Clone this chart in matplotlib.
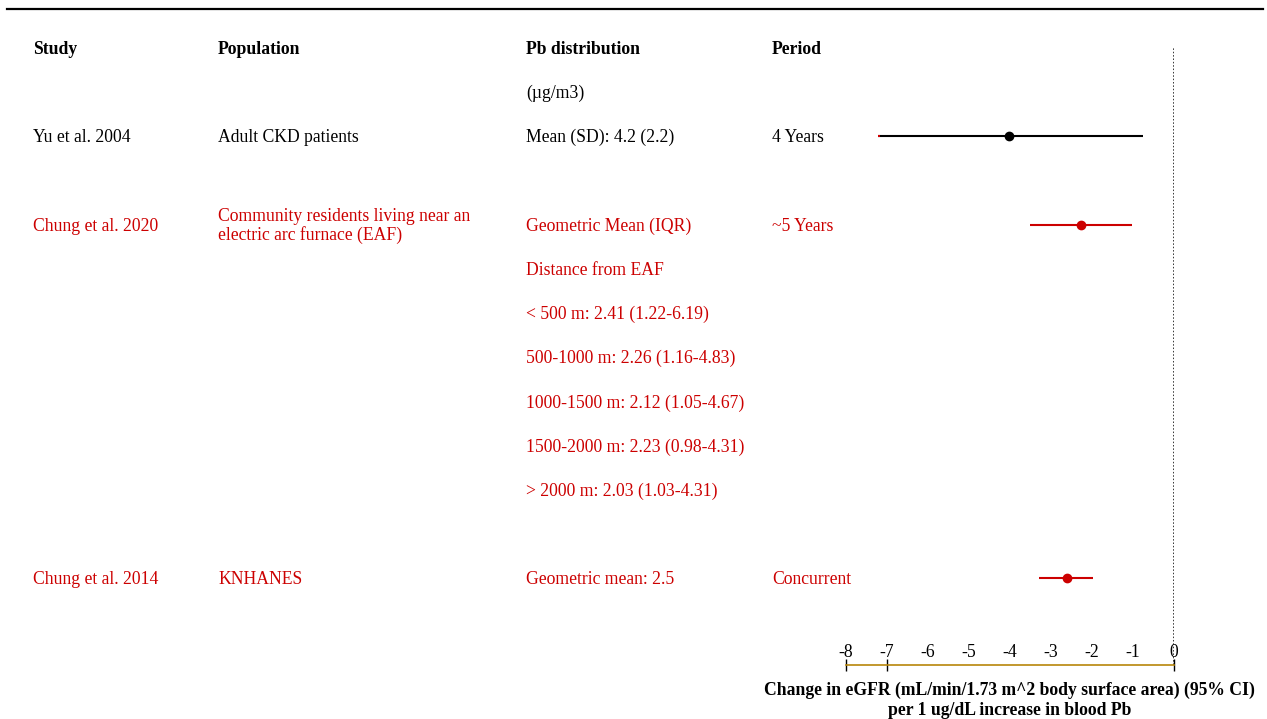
import matplotlib
matplotlib.use("Agg")
import matplotlib.pyplot as plt
import matplotlib.transforms as mtransforms
from matplotlib.lines import Line2D

plt.rcParams["font.family"] = ["Liberation Serif", "DejaVu Serif"]
plt.rcParams["font.size"] = 12.7

RED = "#CC0000"

# table headers
headers = ["Study", "Population", "Pb distribution", "Period"]
unit_label = "(\u00b5g/m3)"

# studies
studies = ["Yu et al. 2004", "Chung et al. 2020", "Chung et al. 2014"]
populations = ["Adult CKD patients",
               "Community residents living near an\nelectric arc furnace (EAF)",
               "KNHANES"]
pb_dist = ["Mean (SD): 4.2 (2.2)", "Geometric Mean (IQR)", "Geometric mean: 2.5"]
periods = ["4 Years", "~5 Years", "Concurrent"]
study_rows = [2, 4, 12]
study_colors = ["black", RED, RED]

# extra lines under Chung et al. 2020
extra_lines = ["Distance from EAF",
               "< 500 m: 2.41 (1.22-6.19)",
               "500-1000 m: 2.26 (1.16-4.83)",
               "1000-1500 m: 2.12 (1.05-4.67)",
               "1500-2000 m: 2.23 (0.98-4.31)",
               "> 2000 m: 2.03 (1.03-4.31)"]

# effect estimates (change in eGFR per 1 ug/dL blood Pb)
est = [-4.01, -2.25, -2.60]
lo = [-7.20, -3.49, -3.29]
hi = [-0.74, -1.01, -1.96]

xticks = [-8, -7, -6, -5, -4, -3, -2, -1, 0]

W, H = 1267, 719
fig = plt.figure(figsize=(W / 100, H / 100), dpi=100)

# forest axes
x0, x1 = 845.5, 1173.5
ytop, ybot = 48, 665
ax = fig.add_axes([x0 / W, 1 - ybot / H, (x1 - x0) / W, (ybot - ytop) / H])
row_h = 44.2
ax.set_xlim(-8, 0)
ax.set_ylim((ybot - ytop) / row_h, 0)
ax.patch.set_visible(False)
for s in ["top", "right", "left"]:
    ax.spines[s].set_visible(False)
ax.spines["bottom"].set_color("#B8860B")
ax.spines["bottom"].set_linewidth(1.2)
ax.set_yticks([])
ax.xaxis.remove_overlapping_locs = False
ax.set_xticks(xticks)
ax.set_xticklabels([str(t) for t in xticks])
ax.tick_params(axis="x", which="major", length=0, pad=-15)
ax.set_xticks([-8, -7, 0], minor=True)
ax.tick_params(axis="x", which="minor", length=9, direction="inout", width=1, color="black")

ax.axvline(0, color="black", linestyle=(0, (1, 1.2)), linewidth=1.1, snap=True)

for i in range(len(studies)):
    ax.plot([lo[i], hi[i]], [study_rows[i]] * 2, color=study_colors[i], lw=1.5,
            solid_capstyle="butt")
    ax.plot(est[i], study_rows[i], "o", color=study_colors[i], markersize=6)
# small red tick at the left end of the Yu et al. interval
ax.plot([lo[0], lo[0] + 0.05], [study_rows[0]] * 2, color=RED, lw=1.5, solid_capstyle="butt")

ax.set_xlabel("Change in eGFR (mL/min/1.73 m^2 body surface area) (95% CI)\n"
              "per 1 ug/dL increase in blood Pb",
              fontweight="bold", labelpad=4, linespacing=1.25)

# table text
tr = mtransforms.blended_transform_factory(fig.transFigure, ax.transData)
col_x = [33 / W, 218 / W, 526 / W, 772 / W]
dy = 0.03

for cx, h in zip(col_x, headers):
    ax.text(cx, dy, h, transform=tr, fontweight="bold", va="center", ha="left", clip_on=False)
ax.text(col_x[2], 1 + dy, unit_label, transform=tr, va="center", ha="left", clip_on=False)

for i in range(len(studies)):
    r = study_rows[i] + dy
    c = study_colors[i]
    for cx, t in zip(col_x, [studies[i], populations[i], pb_dist[i], periods[i]]):
        ax.text(cx, r, t, transform=tr, color=c, va="center", ha="left",
                clip_on=False, linespacing=1.12)

for j, t in enumerate(extra_lines):
    ax.text(col_x[2], 5 + j + dy, t, transform=tr, color=RED, va="center", ha="left", clip_on=False)

# top rule
fig.add_artist(Line2D([7 / W, 1263 / W], [1 - 9 / H] * 2, color="black", lw=1.6))

fig.savefig("out.png", dpi=100)
